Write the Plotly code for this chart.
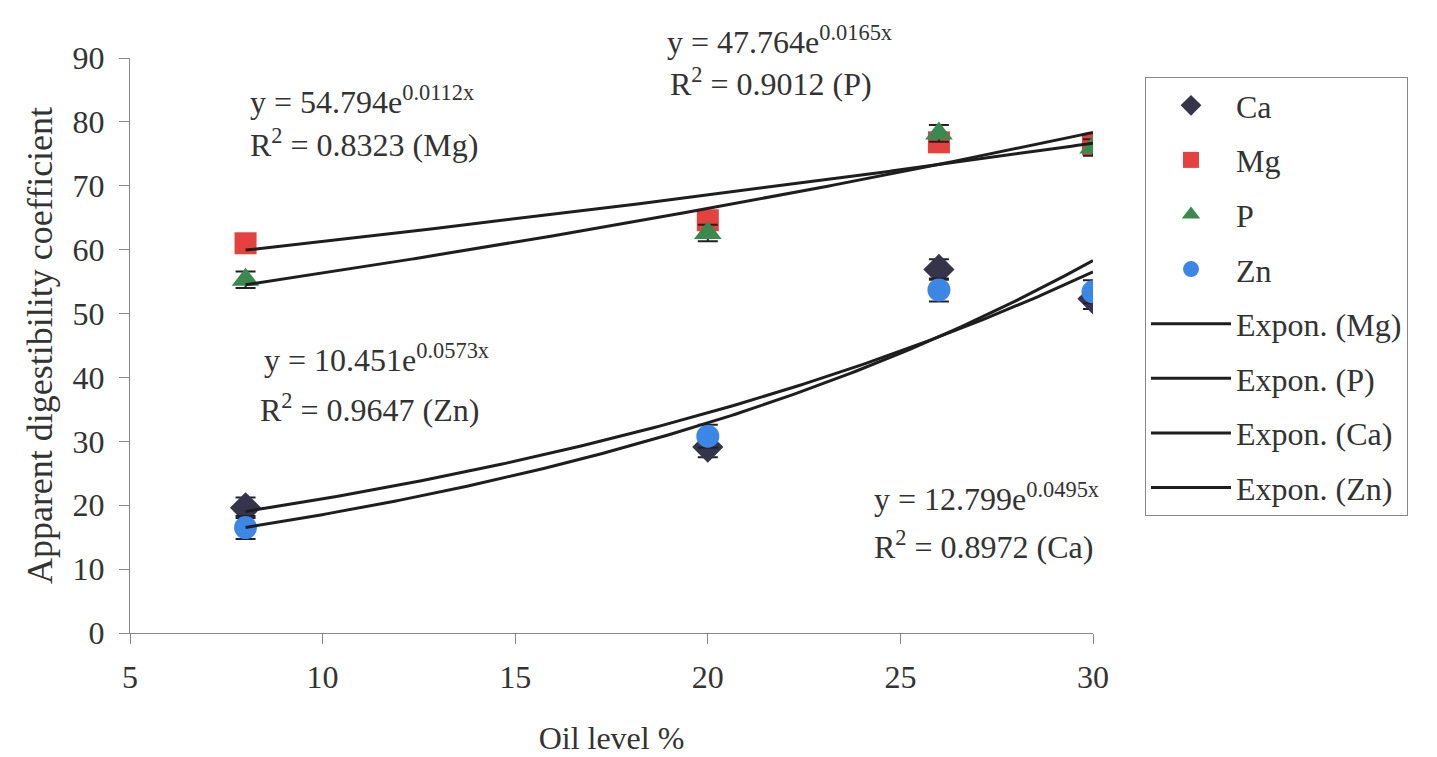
import numpy as np
import plotly.graph_objects as go

# ---- data ----
oil_level = [8, 20, 26, 30]
ca_vals = [19.6, 29.1, 56.9, 52.3]
mg_vals = [61.0, 64.6, 76.8, 76.5]
p_vals = [55.3, 62.6, 78.2, 76.0]
zn_vals = [16.5, 30.8, 53.7, 53.4]
ca_err = [1.6, 1.6, 1.6, 1.6]
mg_err = [1.2, 1.2, 1.2, 1.2]
p_err = [1.3, 1.3, 1.3, 1.3]
zn_err = [1.8, 1.8, 1.8, 1.8]

# exponential trend coefficients (y = a * e^(b x)) as printed on chart
trend_names = ["Expon. (Mg)", "Expon. (P)", "Expon. (Ca)", "Expon. (Zn)"]
trend_a = [54.794, 47.764, 12.799, 10.451]
trend_b = [0.0112, 0.0165, 0.0495, 0.0573]
trend_r2 = [0.8323, 0.9012, 0.8972, 0.9647]
trend_el = ["Mg", "P", "Ca", "Zn"]

font_family = "Liberation Serif, Times New Roman, serif"
txt_color = "#333333"
FS = 32

# target plot area in window pixels
L, R, T, B = 130, 1093, 58, 633
W, H = 1437, 757
OFF = 8  # page body margin offset


def px(xp):
    return (xp - L) / (R - L)


def py(yp):
    return (B - yp) / (B - T)


fig = go.Figure()

series = [
    ("Ca", ca_vals, ca_err, "diamond", "#35344a", 24),
    ("Mg", mg_vals, mg_err, "square", "#e5413f", 22),
    ("P", p_vals, p_err, "triangle-up", "#3a8a50", 24),
    ("Zn", zn_vals, zn_err, "circle", "#3c87e6", 23),
]
for name, vals, err, sym, col, sz in series:
    fig.add_trace(go.Scatter(
        x=oil_level, y=vals, mode="markers", name=name, legendgroup=name,
        marker=dict(symbol=sym, color=col, size=sz, line=dict(width=0)),
        error_y=dict(type="data", array=err, visible=True, color="#222222",
                     thickness=2, width=10),
    ))

xs = np.linspace(min(oil_level), max(oil_level), 200)
for name, a, b in zip(trend_names, trend_a, trend_b):
    fig.add_trace(go.Scatter(
        x=xs, y=a * np.exp(b * xs), mode="lines", name=name, legendgroup=name,
        line=dict(color="#1e1e1e", width=3),
    ))

# equation annotation positions in pixels: (left, center-y eq), (left, center-y R2)
ann_pos = {
    "Mg": ((248, 100), (248, 143)),
    "P": ((665, 40), (668, 82)),
    "Ca": ((872, 497), (872, 545)),
    "Zn": ((262, 358), (258, 408)),
}
for el, a, b, r2 in zip(trend_el, trend_a, trend_b, trend_r2):
    (ex, ey), (rx, ry) = ann_pos[el]
    fig.add_annotation(x=px(ex), y=py(ey), xref="paper", yref="paper",
                       xanchor="left", yanchor="middle",
                       text=f"y = {a:.3f}e<sup>{b:.4f}x</sup>", showarrow=False,
                       font=dict(family=font_family, size=FS, color=txt_color))
    fig.add_annotation(x=px(rx), y=py(ry), xref="paper", yref="paper",
                       xanchor="left", yanchor="middle",
                       text=f"R<sup>2</sup> = {r2:.4f} ({el})", showarrow=False,
                       font=dict(family=font_family, size=FS, color=txt_color))

fig.update_layout(
    width=W, height=H,
    margin=dict(l=L - OFF, r=W + OFF - R, t=T - OFF, b=H + OFF - B),
    paper_bgcolor="white", plot_bgcolor="white",
    font=dict(family=font_family, size=FS, color=txt_color),
    showlegend=True,
    legend=dict(
        x=px(1145), y=py(77), xanchor="left", yanchor="top",
        bordercolor="#888888", borderwidth=1, bgcolor="white",
        font=dict(family=font_family, size=FS, color=txt_color),
        tracegroupgap=10, itemwidth=80,
    ),
    xaxis=dict(
        range=[5, 30], tickmode="linear", tick0=5, dtick=5, automargin=False,
        showgrid=False, zeroline=False, showline=True, linecolor="#888888", linewidth=1,
        ticks="outside", ticklen=10, tickcolor="#888888", ticklabelstandoff=6,
        title=dict(text="Oil level %", font=dict(size=FS), standoff=32),
        tickfont=dict(size=FS),
    ),
    yaxis=dict(
        range=[0, 90], tickmode="linear", tick0=0, dtick=10, automargin=False,
        showgrid=False, zeroline=False, showline=True, linecolor="#888888", linewidth=1,
        ticks="outside", ticklen=10, tickcolor="#888888", ticklabelstandoff=8,
        title=dict(text="Apparent digestibility coefficient", font=dict(size=36), standoff=8),
        tickfont=dict(size=FS),
    ),
)

fig.write_html("out.html")
